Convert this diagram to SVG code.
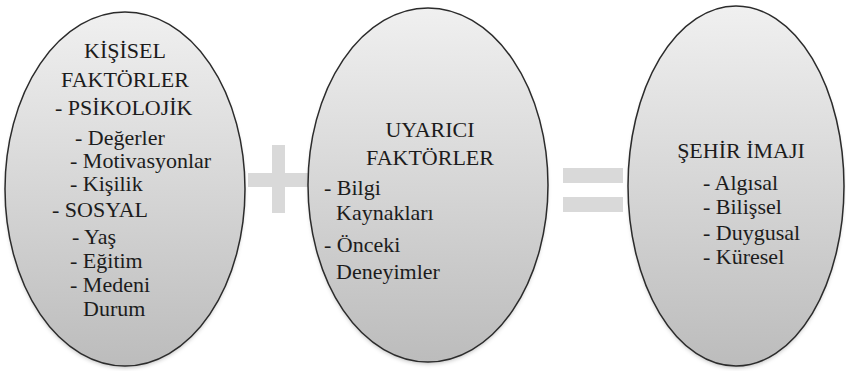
<svg xmlns="http://www.w3.org/2000/svg" width="846" height="371" viewBox="0 0 846 371">
<defs>
<linearGradient id="fillG" x1="0" y1="0" x2="0" y2="1">
<stop offset="0" stop-color="#f0f0f0"/>
<stop offset="1" stop-color="#bcbcbc"/>
</linearGradient>
<filter id="sh" x="-10%" y="-10%" width="120%" height="120%">
<feGaussianBlur stdDeviation="2"/>
</filter>
</defs>
<rect width="846" height="371" fill="#ffffff"/>
<g id="connectors" fill="#d9d9d9">
<rect x="248" y="173" width="60" height="14"/>
<rect x="272" y="145" width="13" height="68"/>
<rect x="563" y="168" width="60" height="15"/>
<rect x="563" y="197" width="60" height="15"/>
</g>
<g id="kisisel" font-family="Liberation Serif" font-size="22" fill="#1c1c1c">
<ellipse cx="125" cy="192" rx="119" ry="176" fill="#000" fill-opacity="0.25" filter="url(#sh)"/>
<ellipse cx="125" cy="189" rx="120" ry="177" fill="url(#fillG)" stroke="#2b2b2b" stroke-width="1.5"/>
<text text-anchor="middle" x="125" y="58">K&#304;&#350;&#304;SEL</text>
<text text-anchor="middle" x="125" y="87">FAKT&#214;RLER</text>
<text x="55" y="115">- PS&#304;KOLOJ&#304;K</text>
<text x="75" y="145">- De&#287;erler</text>
<text x="70" y="168">- Motivasyonlar</text>
<text x="70" y="191">- Ki&#351;ilik</text>
<text x="52" y="217">- SOSYAL</text>
<text x="72" y="244">- Ya&#351;</text>
<text x="70" y="268">- E&#287;itim</text>
<text x="70" y="292">- Medeni</text>
<text x="83" y="316">Durum</text>
</g>
<g id="uyarici" font-family="Liberation Serif" font-size="22" fill="#1c1c1c">
<ellipse cx="428" cy="188" rx="119" ry="176" fill="#000" fill-opacity="0.25" filter="url(#sh)"/>
<ellipse cx="428" cy="185" rx="120" ry="177" fill="url(#fillG)" stroke="#2b2b2b" stroke-width="1.5"/>
<text text-anchor="middle" x="430" y="137">UYARICI</text>
<text text-anchor="middle" x="430" y="165">FAKT&#214;RLER</text>
<text x="324" y="195">- Bilgi</text>
<text x="336" y="220">Kaynaklar&#305;</text>
<text x="324" y="252">- &#214;nceki</text>
<text x="336" y="279">Deneyimler</text>
</g>
<g id="sehir" font-family="Liberation Serif" font-size="22" fill="#1c1c1c">
<ellipse cx="736" cy="189" rx="107" ry="179" fill="#000" fill-opacity="0.25" filter="url(#sh)"/>
<ellipse cx="736" cy="186" rx="108" ry="180" fill="url(#fillG)" stroke="#2b2b2b" stroke-width="1.5"/>
<text text-anchor="middle" x="741" y="158">&#350;EH&#304;R &#304;MAJI</text>
<text x="703" y="190">- Alg&#305;sal</text>
<text x="703" y="214">- Bili&#351;sel</text>
<text x="703" y="240">- Duygusal</text>
<text x="703" y="264">- K&#252;resel</text>
</g>
</svg>
